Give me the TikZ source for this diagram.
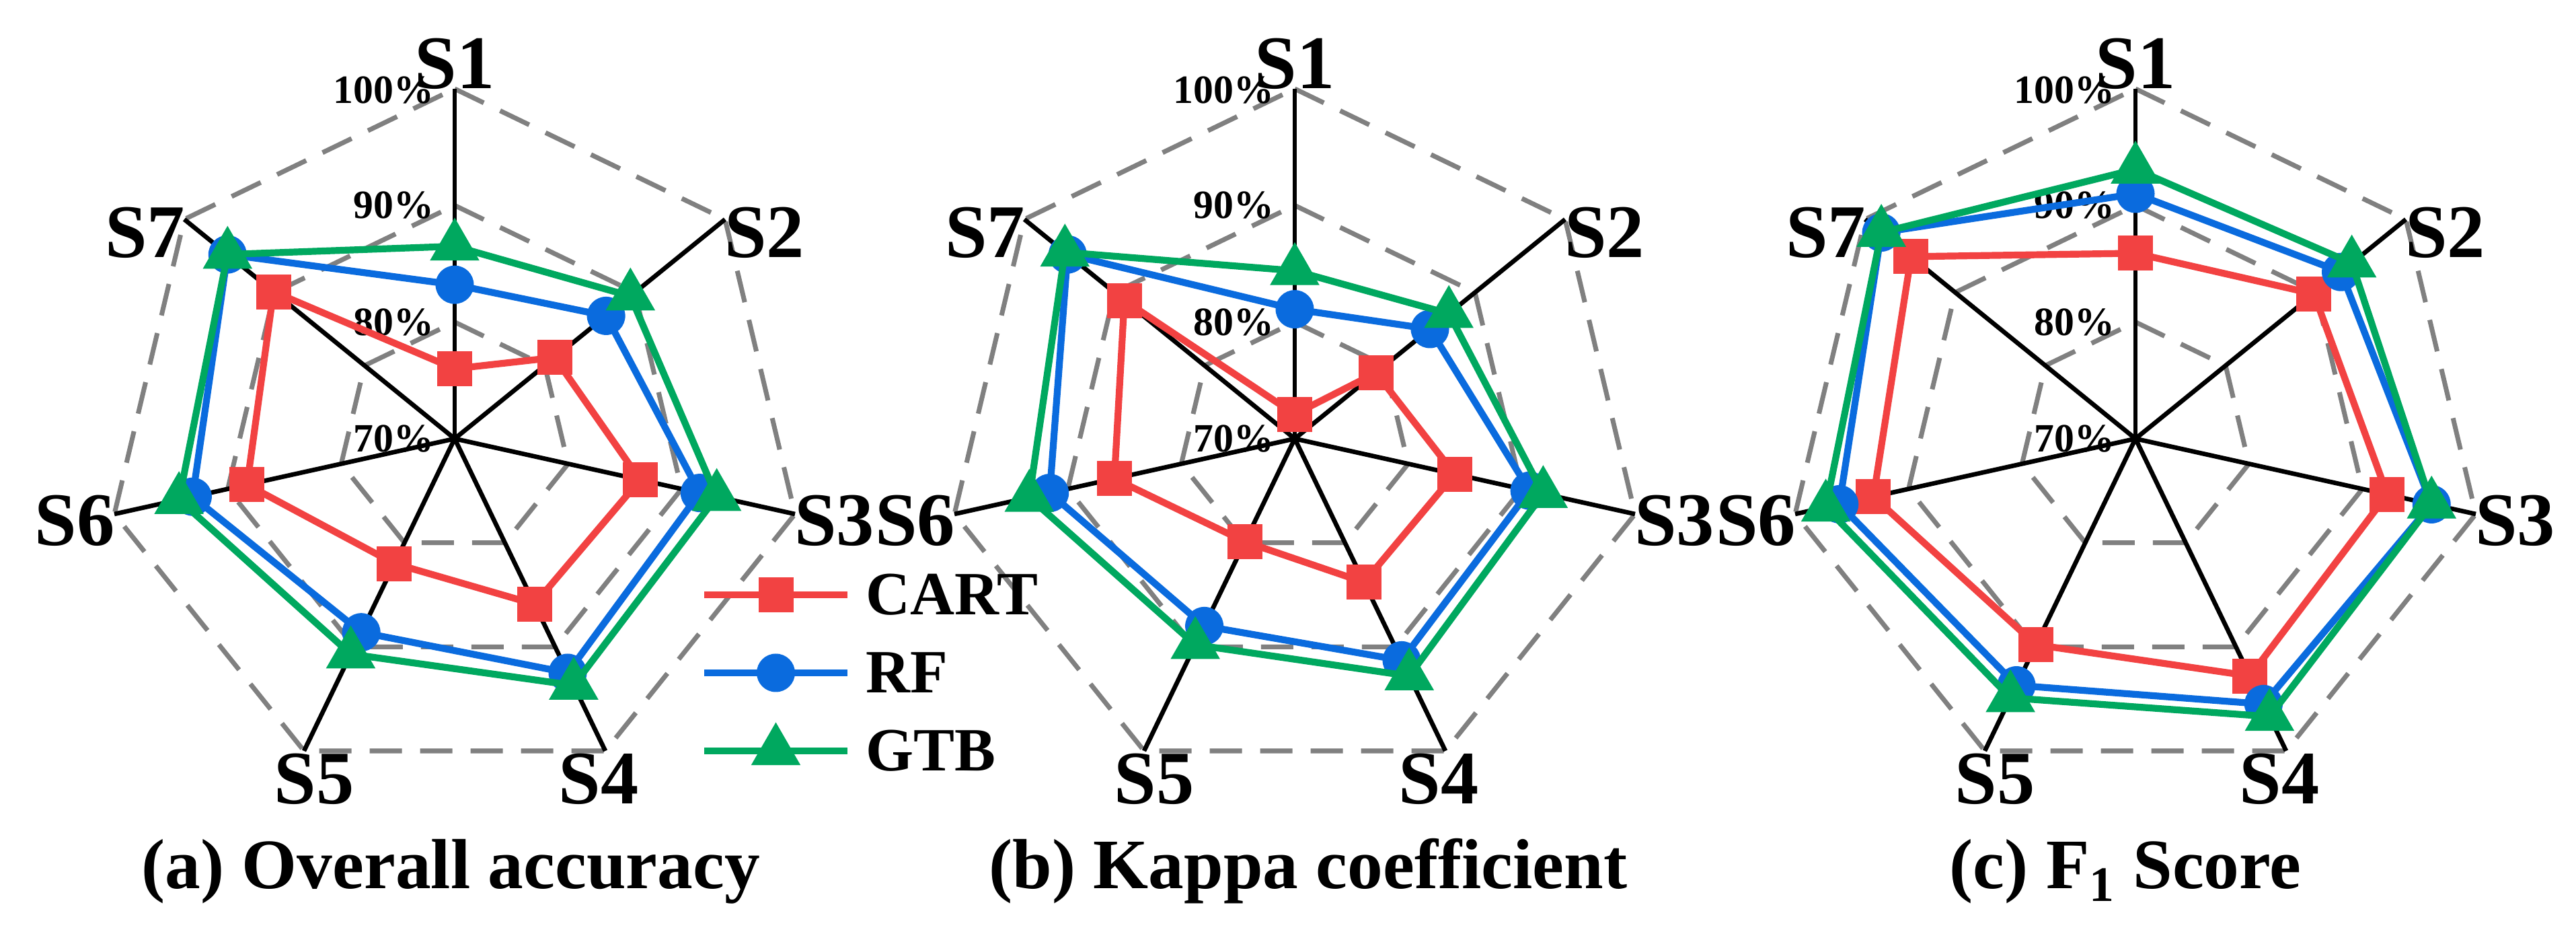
\documentclass[tikz,border=0pt]{standalone}
\usepackage{fontspec}
\setmainfont{Liberation Serif}
\usetikzlibrary{calc,shapes.geometric}

\definecolor{cartred}{HTML}{F24242}
\definecolor{rfblue}{HTML}{0A6BDE}
\definecolor{gtbgreen}{HTML}{00A85F}

\tikzset{
  ring/.style={gray, line width=2pt, dash pattern=on 0.48cm off 0.27cm},
  spoke/.style={black, line width=1.9pt},
  series/.style={line width=2.9pt, line join=round},
  sq/.style={rectangle, fill=cartred, minimum size=0.52cm, inner sep=0pt},
  dot/.style={circle, fill=rfblue, minimum size=0.57cm, inner sep=0pt},
  tri/.style={regular polygon, regular polygon sides=3, fill=gtbgreen, minimum size=0.85cm, inner sep=0pt},
  axlab/.style={font=\fontsize{32}{32}\selectfont\bfseries, inner sep=1pt},
  pct/.style={font=\fontsize{17}{17}\selectfont\bfseries, anchor=east, inner sep=0pt},
  caption/.style={font=\fontsize{30}{30}\selectfont\bfseries, anchor=base},
  legtext/.style={font=\fontsize{26}{26}\selectfont\bfseries, anchor=west, inner sep=0pt}
}

% radar frame: #1 name, #2 centre
\newcommand{\radarframe}[2]{%
  \coordinate (#1) at (#2);
  \coordinate (#1-1) at ($(#1)+(0,5.20)$);
  \coordinate (#1-2) at ($(#1)+(4.02,3.26)$);
  \coordinate (#1-3) at ($(#1)+(5.06,-1.12)$);
  \coordinate (#1-4) at ($(#1)+(2.24,-4.64)$);
  \coordinate (#1-5) at ($(#1)+(-2.24,-4.64)$);
  \coordinate (#1-6) at ($(#1)+(-5.06,-1.12)$);
  \coordinate (#1-7) at ($(#1)+(-4.02,3.26)$);
  \foreach \f in {0.3333,0.6667,1}
    \draw[ring] ($(#1)!\f!(#1-1)$) -- ($(#1)!\f!(#1-2)$) -- ($(#1)!\f!(#1-3)$)
      -- ($(#1)!\f!(#1-4)$) -- ($(#1)!\f!(#1-5)$) -- ($(#1)!\f!(#1-6)$)
      -- ($(#1)!\f!(#1-7)$) -- cycle;
  \foreach \k in {1,...,7}
    \draw[spoke] (#1) -- (#1-\k);
  \node[axlab, anchor=south] at ($(#1-1)+(0,-0.05)$) {S1};
  \node[axlab, anchor=west] at ($(#1-2)+(-0.05,-0.2)$) {S2};
  \node[axlab, anchor=west] at ($(#1-3)+(-0.05,-0.1)$) {S3};
  \node[axlab, anchor=north] at ($(#1-4)+(-0.1,0)$) {S4};
  \node[axlab, anchor=north] at ($(#1-5)+(0.15,0)$) {S5};
  \node[axlab, anchor=east] at ($(#1-6)+(0.05,-0.1)$) {S6};
  \node[axlab, anchor=east] at ($(#1-7)+(0.05,-0.2)$) {S7};
  \node[pct] at ($(#1)+(-0.3,0)$) {70\%};
  \node[pct] at ($(#1)!0.3333!(#1-1)+(-0.3,0)$) {80\%};
  \node[pct] at ($(#1)!0.6667!(#1-1)+(-0.3,0)$) {90\%};
  \node[pct] at ($(#1-1)+(-0.3,-0.02)$) {100\%};
}

% series: #1 frame, #2 tag, #3 colour, #4 marker style, #5 values
\newcommand{\radarline}[5]{%
  \foreach \v [count=\k] in {#5}
    \coordinate (#1#2-\k) at ($(#1)!\v!(#1-\k)$);
  \draw[series, #3] (#1#2-1) -- (#1#2-2) -- (#1#2-3) -- (#1#2-4)
    -- (#1#2-5) -- (#1#2-6) -- (#1#2-7) -- cycle;
  \foreach \k in {1,...,7}
    \node[#4] at (#1#2-\k) {};
}

\begin{document}
\begin{tikzpicture}
  \useasboundingbox (0,0) rectangle (38.3,14);

  % (a) Overall accuracy
  \radarframe{oa}{6.76,7.48}
  \radarline{oa}{cart}{cartred}{sq}{0.20,0.37,0.545,0.53,0.40,0.61,0.67}
  \radarline{oa}{rf}{rfblue}{dot}{0.44,0.56,0.72,0.75,0.62,0.77,0.84}
  \radarline{oa}{gtb}{gtbgreen}{tri}{0.55,0.65,0.77,0.79,0.69,0.81,0.84}
  \node[caption] (capa) at (6.70,0.79) {(a) Overall accuracy};

  % (b) Kappa coefficient
  \radarframe{kc}{19.25,7.48}
  \radarline{kc}{cart}{cartred}{sq}{0.07,0.30,0.47,0.46,0.33,0.53,0.63}
  \radarline{kc}{rf}{rfblue}{dot}{0.37,0.50,0.69,0.71,0.60,0.72,0.84}
  \radarline{kc}{gtb}{gtbgreen}{tri}{0.48,0.57,0.73,0.76,0.66,0.78,0.85}
  \node[caption] (capb) at (19.45,0.79) {(b) Kappa coefficient};

  % (c) F1 score
  \radarframe{fs}{31.75,7.48}
  \radarline{fs}{cart}{cartred}{sq}{0.53,0.66,0.74,0.76,0.66,0.77,0.83}
  \radarline{fs}{rf}{rfblue}{dot}{0.70,0.76,0.87,0.85,0.79,0.87,0.94}
  \radarline{fs}{gtb}{gtbgreen}{tri}{0.77,0.80,0.87,0.89,0.83,0.91,0.94}
  \node[caption] (capc) at (31.60,0.79) {(c) F$_{\mathbf 1}$ Score};

  % legend
  \coordinate (lg1l) at (10.47,5.16);  \coordinate (lg1r) at (12.60,5.16);
  \coordinate (lg2l) at (10.47,4.00);  \coordinate (lg2r) at (12.60,4.00);
  \coordinate (lg3l) at (10.47,2.84);  \coordinate (lg3r) at (12.60,2.84);
  \draw[series, cartred] (lg1l) -- (lg1r) node[sq, midway] (lgcart) {};
  \draw[series, rfblue] (lg2l) -- (lg2r) node[dot, midway] (lgrf) {};
  \draw[series, gtbgreen] (lg3l) -- (lg3r) node[tri, midway] (lggtb) {};
  \node[legtext] at ($(lg1r)+(0.27,0)$) {CART};
  \node[legtext] at ($(lg2r)+(0.27,0)$) {RF};
  \node[legtext] at ($(lg3r)+(0.27,0)$) {GTB};
\end{tikzpicture}
\end{document}
